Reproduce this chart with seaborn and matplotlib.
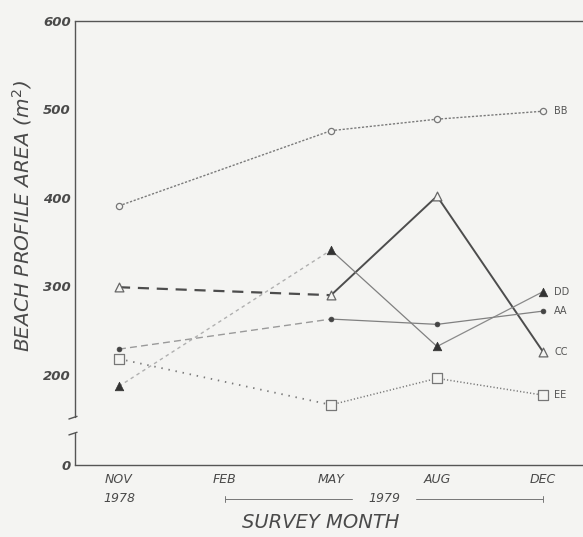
import matplotlib
matplotlib.use("Agg")
import matplotlib.pyplot as plt
import seaborn as sns
import pandas as pd

# ---- data ----
months = ["NOV", "FEB", "MAY", "AUG", "DEC"]
survey_pos = [0, 2, 3, 4]          # NOV, MAY, AUG, DEC (no FEB survey)
bb = [391, 476, 489, 498]
cc = [299, 290, 402, 226]
dd = [187, 341, 232, 294]
aa = [229, 263, 257, 272]
ee = [218, 166, 196, 177]
y_ticks = [98, 200, 300, 400, 500, 600]
y_tick_labels = ["0", "200", "300", "400", "500", "600"]

sns.set_theme(style="white")
plt.rcParams["font.family"] = ["DejaVu Sans"]

BG = "#f4f4f2"
INK = "#4a4a4a"
fig = plt.figure(figsize=(5.83, 5.37), dpi=100, facecolor=BG)
ax = fig.add_axes([75 / 583, 1 - 465 / 537, 1 - 75 / 583, (465 - 21) / 537])
ax.set_facecolor(BG)

def seg(vals, i, j, **kw):
    df = pd.DataFrame({"x": [survey_pos[i], survey_pos[j]], "y": [vals[i], vals[j]]})
    sns.lineplot(data=df, x="x", y="y", ax=ax, sort=False, estimator=None, **kw)

# BB dotted all the way
for i in range(3):
    seg(bb, i, i + 1, color="#7a7a7a", lw=1.0, linestyle=(0, (1.6, 1.2)))
# CC dashed then solid
seg(cc, 0, 1, color="#4d4d4d", lw=1.6, linestyle=(0, (5, 3.5)))
seg(cc, 1, 2, color="#4d4d4d", lw=1.4)
seg(cc, 2, 3, color="#4d4d4d", lw=1.4)
# DD fine dashes then solid thin
seg(dd, 0, 1, color="#b0b0b0", lw=1.0, linestyle=(0, (2.5, 2.5)))
seg(dd, 1, 2, color="#808080", lw=0.9)
seg(dd, 2, 3, color="#8a8a8a", lw=0.9)
# AA dashed then solid thin
seg(aa, 0, 1, color="#9a9a9a", lw=1.0, linestyle=(0, (5, 3)))
seg(aa, 1, 2, color="#808080", lw=0.9)
seg(aa, 2, 3, color="#808080", lw=0.9)
# EE dotted
seg(ee, 0, 1, color="#7a7a7a", lw=1.3, linestyle=(0, (0.8, 3.2)))
seg(ee, 1, 2, color="#7a7a7a", lw=1.1, linestyle=(0, (0.8, 1.4)))
seg(ee, 2, 3, color="#7a7a7a", lw=1.1, linestyle=(0, (0.8, 1.4)))

# markers
mk = dict(ax=ax, zorder=5, legend=False)
sns.scatterplot(x=survey_pos, y=bb, marker="o", s=20, facecolor=BG, edgecolor="#777777", linewidth=0.9, **mk)
sns.scatterplot(x=survey_pos, y=cc, marker="^", s=40, facecolor=BG, edgecolor="#666666", linewidth=0.9, **mk)
sns.scatterplot(x=survey_pos, y=dd, marker="^", s=38, color="#333333", edgecolor="#333333", linewidth=0.5, **mk)
sns.scatterplot(x=survey_pos, y=aa, marker="o", s=12, color="#444444", edgecolor="#444444", linewidth=0.5, **mk)
sns.scatterplot(x=survey_pos, y=ee, marker="s", s=45, facecolor=BG, edgecolor="#777777", linewidth=0.9, **mk)

# series labels at right
lab_font = dict(fontsize=7, color="#555555", va="center", ha="left")
for name, vals in [("BB", bb), ("DD", dd), ("AA", aa), ("CC", cc), ("EE", ee)]:
    ax.annotate(name, (survey_pos[-1], vals[-1]), xytext=(8, 0), textcoords="offset points", **lab_font)

# axes
ax.set_xlim(-0.415, 4.377)
ax.set_ylim(98, 600)
ax.set_xticks(range(len(months)))
ax.set_xticklabels(months, fontsize=9, style="italic", color=INK)
ax.set_yticks(y_ticks)
ax.set_yticklabels(y_tick_labels, fontsize=9.5, style="italic", color=INK, fontweight="bold")
ax.tick_params(axis="x", direction="in", length=5, width=0.8, color="#666666", pad=6)
ax.tick_params(axis="y", direction="in", length=4, width=0.8, color="#666666", pad=3)
ax.set_xlabel("")
ax.set_ylabel("")
ax.spines["right"].set_visible(False)
ax.spines["left"].set_visible(False)
for s in ["top", "bottom"]:
    ax.spines[s].set_color("#555555")
    ax.spines[s].set_linewidth(1.0)

# broken left axis
tr = ax.get_yaxis_transform()
ax.plot([0, 0], [152, 600], transform=tr, color="#555555", lw=1.0, clip_on=False)
ax.plot([0, 0], [98, 134], transform=tr, color="#555555", lw=1.0, clip_on=False)
ax.plot([-0.012, 0.004], [150, 153], transform=tr, color="#555555", lw=1.0, clip_on=False)
ax.plot([-0.012, 0.004], [132, 135], transform=tr, color="#555555", lw=1.0, clip_on=False)

# second row of x labels
xtr = ax.get_xaxis_transform()
yrow = -(499 - 465) / 444
ax.text(0, yrow, "1978", transform=xtr, ha="center", va="center", fontsize=9, style="italic", color=INK)
ax.text(2.5, yrow, "1979", transform=xtr, ha="center", va="center", fontsize=9, style="italic", color=INK)
ax.plot([1, 2.2], [yrow, yrow], transform=xtr, color="#777777", lw=0.7, clip_on=False)
ax.plot([2.8, 4.0], [yrow, yrow], transform=xtr, color="#777777", lw=0.7, clip_on=False)
for xe in [1, 4.0]:
    ax.plot([xe, xe], [yrow - 0.007, yrow + 0.007], transform=xtr, color="#777777", lw=0.7, clip_on=False)

fig.text(321 / 583, 1 - 522 / 537, "SURVEY MONTH", ha="center", va="center", fontsize=14, style="italic", color=INK)
fig.text(22 / 583, 1 - 216 / 537, "BEACH PROFILE AREA ($m^2$)", ha="center", va="center", rotation=90,
         fontsize=14.5, style="italic", color=INK)

fig.savefig("out.png", dpi=100, facecolor=BG)
